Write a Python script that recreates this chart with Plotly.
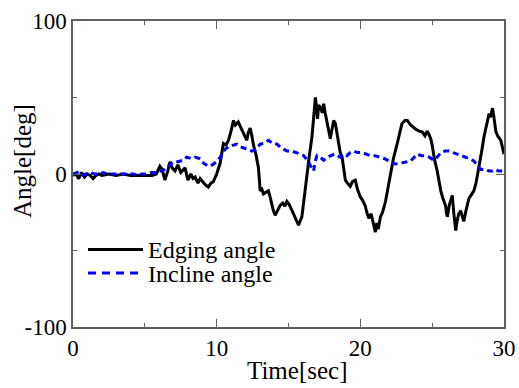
import plotly.graph_objects as go

# Edging angle (black solid)
edging_t = [0.0, 0.2, 0.4, 0.6, 0.8, 1.0, 1.2, 1.4, 1.6, 1.8, 2.0, 2.5, 3.0, 3.5, 4.0, 4.5, 5.0, 5.5,
            5.8, 6.05, 6.2, 6.4, 6.6, 6.75, 6.9, 7.1, 7.3, 7.5, 7.8, 7.9, 8.0, 8.2, 8.35, 8.5, 8.7,
            8.85, 9.0, 9.2, 9.42, 9.6, 9.77, 10.0, 10.24, 10.35, 10.47, 10.65, 10.82, 11.0, 11.17,
            11.3, 11.5, 11.7, 11.85, 12.0, 12.1, 12.2, 12.33, 12.45, 12.56, 12.75, 12.91, 13.03,
            13.15, 13.26, 13.45, 13.6, 13.72, 13.84, 13.95, 14.07, 14.25, 14.42, 14.6, 14.75, 14.89,
            15.05, 15.2, 15.35, 15.5, 15.7, 15.8, 15.93, 16.1, 16.28, 16.45, 16.63, 16.75, 16.87,
            16.95, 17.02, 17.1, 17.25, 17.35, 17.45, 17.55, 17.68, 17.8, 17.91, 18.0, 18.15, 18.26,
            18.4, 18.49, 18.6, 18.73, 18.85, 18.96, 19.1, 19.3, 19.45, 19.65, 19.8, 20.0, 20.15,
            20.35, 20.45, 20.59, 20.75, 20.9, 21.05, 21.15, 21.25, 21.4, 21.55, 21.75, 21.9, 22.1,
            22.3, 22.57, 22.75, 22.9, 23.1, 23.27, 23.5, 23.73, 23.9, 24.1, 24.3, 24.5, 24.65,
            24.77, 24.9, 25.0, 25.15, 25.35, 25.5, 25.6, 25.75, 25.94, 26.0, 26.06, 26.2, 26.3,
            26.4, 26.5, 26.64, 26.75, 26.85, 26.98, 27.1, 27.2, 27.35, 27.45, 27.56, 27.7, 27.9,
            28.05, 28.26, 28.45, 28.6, 28.8, 28.96, 29.05, 29.2, 29.3, 29.43, 29.55, 29.78, 29.9, 30.0]
edging_v = [-1, 0, -3, 1, -2, 0, -1, -3, -1, 0, -1, 0, -1, 0, -1, -1, -1, -1,
            0, 5, 3, -4, 2, 8, 4, 2, 6, 1, 4, -1, -4, 0, -3, -2, -6,
            -3, -5, -7, -8.5, -6, -5, 0, 7, 14, 20, 19, 22, 28, 35,
            32, 34, 30, 27, 24, 22, 27, 30, 25, 19, 12, 4, -11,
            -10, -13, -12, -11, -15, -20, -24, -27, -24, -20.5, -19, -21, -18,
            -20, -23, -26, -29, -33.5, -31, -28, -15, 0, 12, 24, 38, 50,
            44, 36, 45, 43, 40, 46, 40, 33, 27, 23, 28, 35, 33,
            24, 19.5, 14, 11, 4, -4, -6, -8, -5, -4, -10, -15, -17,
            -21, -25, -29, -26, -33, -38, -32, -36, -28, -25, -18, -10, 0,
            10, 20, 27, 33, 35, 35, 32, 30, 29, 28, 27.5, 25, 28,
            26, 23, 19, 10, 2, -6, -11, -16, -21, -26, -28, -20, -16,
            -14, -25, -37, -30, -26, -24, -29, -31, -24, -19, -16, -14, -11,
            -6, 4, 15, 24, 33, 39.5, 37, 43, 37, 28, 25, 22, 17, 13]

# Incline angle (blue dashed)
incline_t = [0.0, 0.3, 0.6, 0.9, 1.2, 1.5, 1.8, 2.1, 2.4, 2.7, 3.0, 3.3, 3.6, 3.9, 4.2, 4.5, 4.8, 5.1,
             5.5, 5.8, 6.3, 6.6, 6.98, 7.3, 7.67, 7.9, 8.26, 8.5, 8.84, 9.1, 9.42, 9.7, 10.0, 10.25,
             10.47, 10.7, 10.93, 11.2, 11.4, 11.6, 11.85, 12.1, 12.45, 12.7, 13.03, 13.3, 13.6, 13.9,
             14.2, 14.5, 14.9, 15.2, 15.6, 15.85, 16.05, 16.2, 16.4, 16.55, 16.75, 16.85, 16.98,
             17.2, 17.45, 17.7, 17.91, 18.2, 18.6, 18.85, 19.07, 19.3, 19.54, 19.8, 20.12, 20.4,
             20.7, 21.0, 21.4, 21.7, 21.98, 22.2, 22.45, 22.75, 23.03, 23.25, 23.5, 23.75, 23.96,
             24.25, 24.54, 24.8, 25.12, 25.35, 25.6, 25.9, 26.17, 26.45, 26.75, 27.05, 27.33, 27.6,
             27.9, 28.15, 28.38, 28.7, 28.96, 29.2, 29.4, 29.6, 29.78, 30.0]
incline_v = [0, 1, -1, 0, 1, 0, 0, 1, 0, 0, 0, 0, 0, 0, 0, -1, 0, 0,
             1, 1, 2.5, 5, 8, 8, 9, 11, 10, 11, 10, 7, 5, 6, 8, 11,
             15, 17, 18.5, 19, 19.5, 18, 17, 16, 15, 16, 19.5, 20, 22, 20,
             19.5, 17, 15, 15, 14, 13, 12, 10, 8, 5, 2, 8, 12,
             11, 9, 11, 12, 13, 11, 13, 12, 14, 15, 14, 14, 13,
             12, 12, 11, 10, 8.5, 7, 6.5, 7, 7.5, 8, 8.5, 11, 13,
             12, 12, 11, 9, 11, 14, 15, 15, 14, 13, 12, 11, 10,
             8.5, 6, 3, 3, 2, 2, 3, 2, 2, 2]

x_ticks = [0, 10, 20, 30]
x_ticktext = ["0", "10", "20", "30"]
y_ticks = [-100, 0, 100]
y_ticktext = ["-100", "0", "100"]
legend_labels = ["Edging angle", "Incline angle"]

FONT = "Liberation Serif"
AXC = "#606060"

fig = go.Figure()
fig.add_trace(go.Scatter(x=edging_t, y=edging_v, mode="lines", name=legend_labels[0],
                         line=dict(color="black", width=3), showlegend=False))
fig.add_trace(go.Scatter(x=incline_t, y=incline_v, mode="lines", name=legend_labels[1],
                         line=dict(color="#0000ff", width=3, dash="6px,4px"), showlegend=False))

axis_common = dict(showgrid=False, zeroline=False, showline=True, linecolor=AXC, linewidth=1.5,
                   mirror="ticks", ticks="inside", ticklen=8, tickwidth=1.2, tickcolor=AXC,
                   automargin=False,
                   tickfont=dict(family=FONT, size=23, color="black"))
fig.update_xaxes(range=[0, 30], tickvals=x_ticks, ticktext=x_ticktext,
                 minor=dict(dtick=5, ticks="inside", ticklen=4, tickcolor=AXC, tickwidth=1.2),
                 **axis_common)
fig.update_yaxes(range=[-100, 100], tickvals=y_ticks, ticktext=y_ticktext,
                 minor=dict(dtick=50, ticks="inside", ticklen=4, tickcolor=AXC, tickwidth=1.2),
                 **axis_common)

W, H = 519, 388
L, R, T, B = 73, 15, 21, 61
pw, ph = W - L - R, H - T - B

def px(x):
    return (x - L) / pw

def py(y):
    return (H - B - y) / ph

# manual legend
fig.add_shape(type="line", xref="paper", yref="paper", x0=px(88), x1=px(143), y0=py(249.5), y1=py(249.5),
              line=dict(color="black", width=3))
fig.add_shape(type="line", xref="paper", yref="paper", x0=px(88), x1=px(143), y0=py(273), y1=py(273),
              line=dict(color="#0000ff", width=3, dash="8px,6px"))
fig.add_annotation(xref="paper", yref="paper", x=px(146), y=py(250), xanchor="left", yanchor="middle",
                   text=legend_labels[0], showarrow=False, font=dict(family=FONT, size=24, color="black"))
fig.add_annotation(xref="paper", yref="paper", x=px(146), y=py(274), xanchor="left", yanchor="middle",
                   text=legend_labels[1], showarrow=False, font=dict(family=FONT, size=24, color="black"))

# axis titles
fig.add_annotation(xref="paper", yref="paper", x=px(297), y=py(370), xanchor="center", yanchor="middle",
                   text="Time[sec]", showarrow=False, font=dict(family=FONT, size=25, color="black"))
fig.add_annotation(xref="paper", yref="paper", x=px(22), y=py(161), xanchor="center", yanchor="middle",
                   text="Angle[deg]", textangle=-90, showarrow=False,
                   font=dict(family=FONT, size=25, color="black"))

fig.update_layout(width=W, height=H, margin=dict(l=L, r=R, t=T, b=B, pad=0, autoexpand=False),
                  paper_bgcolor="white", plot_bgcolor="white", showlegend=False)

fig.write_html("out.html", config={"displayModeBar": False},
               post_script="document.body.style.margin='0px';document.body.style.overflow='hidden';")
